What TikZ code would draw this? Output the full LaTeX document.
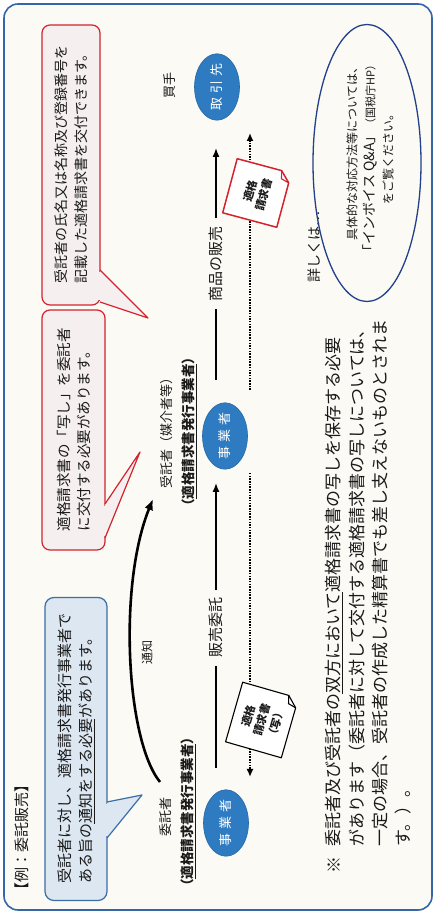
\documentclass[tikz,border=0pt]{standalone}
\usepackage{fontspec}
\setmainfont{Noto Sans CJK JP}
\usetikzlibrary{arrows.meta,shapes.geometric}
\definecolor{frameblue}{HTML}{3566A6}
\definecolor{bgcream}{HTML}{FBFAF4}
\definecolor{redline}{HTML}{D2232E}
\definecolor{redfill}{HTML}{F5EFEF}
\definecolor{bluefill}{HTML}{DCE7F2}
\definecolor{blueline}{HTML}{3C6EA6}
\definecolor{ellblue}{HTML}{2E7BC2}
\definecolor{infoblue}{HTML}{23408C}
\definecolor{txt}{HTML}{1A1A1A}
\newcommand{\jfs}[2]{\fontsize{#1}{#2}\selectfont}
\begin{document}
\begin{tikzpicture}[x=1pt,y=-1pt,rotate=90,transform shape,
  every node/.style={inner sep=0pt, text=txt},
  party/.style={ellipse, fill=ellblue, draw=ellblue!85!black, line width=0.6pt, minimum width=60pt, minimum height=45pt, text=white, font=\jfs{13}{15}},
  lbl/.style={font=\jfs{13}{15}},
  lblb/.style={font=\jfs{13.5}{15}\bfseries},
  midlbl/.style={font=\jfs{15}{17}, outer sep=8pt},
  flowplain/.style={line width=1.4pt},
  flow/.style={line width=1.4pt, -{Latex[length=9pt,width=7pt]}},
  dotflow/.style={line width=1.6pt, dash pattern=on 1.5pt off 1.2pt, -{Latex[length=8pt,width=7pt]}},
  callred/.style={draw=redline, fill=redfill, line width=1.2pt, rounded corners=8pt, align=left},
  callblue/.style={draw=blueline, fill=bluefill, line width=1.2pt, rounded corners=9pt, align=left},
  docline/.style={line width=1.1pt, line join=round},
  doctext/.style={align=center, font=\jfs{11}{14.5}\bfseries},
  notice/.style={line width=2.6pt, -{Latex[length=11pt,width=9pt]}},
  note/.style={anchor=west, font=\jfs{17}{20}}
]
\useasboundingbox (0,0) rectangle (915,435);
\fill[white] (0,0) rectangle (915,435);
\draw[frameblue, line width=1.6pt, fill=bgcream, rounded corners=14pt] (5,4) rectangle (911,432);

% header
\node[anchor=west, font=\jfs{15}{17}] (head) at (17,22) {【例：委託販売】};

% blue callout
\node[callblue, minimum width=303pt, minimum height=62pt, font=\jfs{15}{21}] (bbox) at (166,76)
  {受託者に対し、適格請求書発行事業者で\\ある旨の\underline{通知をする必要}があります。};
\fill[bluefill] (79,103) rectangle (111,108.2);
\fill[bluefill] (78,107) -- (120,142) -- (112,107) -- cycle;
\draw[blueline, line width=1.2pt, line join=round] (77,107) -- (120,142) -- (113,107);

% red callout 2
\node[callred, minimum width=240pt, minimum height=63pt, font=\jfs{14.5}{20}] (rbox2) at (485,73.5)
  {適格請求書の「写し」を委託者\\に交付する必要があります。};
\fill[redfill] (379,101) rectangle (409,106.2);
\fill[redfill] (378,105) -- (463,140) -- (410,105) -- cycle;
\draw[redline, line width=1.2pt, line join=round] (377,105) -- (463,140) -- (411,105);

% red callout 1
\node[callred, minimum width=280pt, minimum height=58pt, font=\jfs{14}{20}] (rbox1) at (750,71)
  {受託者の氏名又は名称及び登録番号を\\記載した適格請求書を交付できます。};
\fill[redfill] (615,96) rectangle (643,101.2);
\fill[redfill] (614,100) -- (597,148) -- (644,100) -- cycle;
\draw[redline, line width=1.2pt, line join=round] (613,100) -- (597,148) -- (645,100);

% parties
\node[party] (L) at (92,226) {事\hspace{4pt}業\hspace{4pt}者};
\node[party] (M) at (479,225) {事\hspace{4pt}業\hspace{4pt}者};
\node[party] (R) at (828,217) {取\hspace{4pt}引\hspace{4pt}先};

\node[lbl] (itaku) at (98,166) {委託者};
\node[lblb] (itakuq) at (103,188) {（\underline{適格請求書発行事業者}）};
\node[lbl] (jutaku) at (485,167) {受託者（媒介者等）};
\node[lblb] (jutakuq) at (483,189) {（\underline{適格請求書発行事業者}）};
\node[lbl] (kaite) at (829,170) {買手};

% notice curve
\coordinate (nS) at (133,160);
\coordinate (nE) at (416,153);
\draw[notice] (nS) .. controls (175,126) and (330,118) .. (nE);
\node[font=\jfs{12}{14}] (tsuchi) at (262,147) {通知};

% solid flows
\node[midlbl] (hanbai) at (287,216) {販売委託};
\coordinate (a1s) at (147,216);
\coordinate (a1e) at (432,216);
\draw[flowplain] (a1s) -- (hanbai.west);
\draw[flow] (hanbai.east) -- (a1e);

\node[midlbl] (shohin) at (651,216) {商品の販売};
\coordinate (a2s) at (535,216);
\coordinate (a2e) at (767,216);
\draw[flowplain] (a2s) -- (shohin.west);
\draw[flow] (shohin.east) -- (a2e);

% dotted flows
\coordinate (d1s) at (442,250);
\coordinate (d1e) at (138,250);
\draw[dotflow] (d1s) -- (d1e);
\coordinate (d2s) at (525,250);
\coordinate (d2e) at (782,250);
\draw[dotflow] (d2s) -- (d2e);

% white document
\begin{scope}[shift={(195,262)},rotate=-16]
  \draw[docline, fill=white] (-31,-29) -- (31,-29) -- (31,19) -- (21,29) -- (-31,29) -- cycle;
  \draw[docline] (31,19) -- (23,21) -- (21,29);
  \node[doctext] (docw) at (0,0) {適格\\請求書\\（写）};
\end{scope}

% red document
\begin{scope}[shift={(722,257)},rotate=-15]
  \draw[docline, draw=redline, line width=1.5pt, fill=white] (-28,-28) -- (28,-28) -- (28,18) -- (18,28) -- (-28,28) -- cycle;
  \draw[docline, draw=redline] (28,18) -- (20,20) -- (18,28);
  \node[doctext] (docr) at (0,0) {適格\\請求書};
\end{scope}

% info
\node[font=\jfs{14}{16}] (kuwashiku) at (668,314) {詳しくは…};
\node[ellipse, draw=infoblue, line width=1.3pt, minimum width=277pt, minimum height=108pt] (info) at (752,367) {};
\node[font=\jfs{12}{14}] (info1) at (764,352) {具体的な対応方法等については、};
\node[font=\jfs{14}{16}] (info2) at (756,370) {「インボイス Q\&A」{\jfs{11}{12}（国税庁HP）}};
\node[font=\jfs{12}{14}] (info3) at (758,388) {をご覧ください。};

% note
\node[font=\jfs{17}{20}] (kome) at (50,334) {※};
\node[note] (n1) at (68,334) {委託者及び受託者の\underline{双方において}適格請求書の写しを保存する必要};
\node[note] (n2) at (68,357) {があります（委託者に対して交付する適格請求書の写しについては、};
\node[note] (n3) at (68,380) {一定の場合、受託者の作成した精算書でも差し支えないものとされま};
\node[note] (n4) at (68,403) {す。）。};
\end{tikzpicture}
\end{document}
